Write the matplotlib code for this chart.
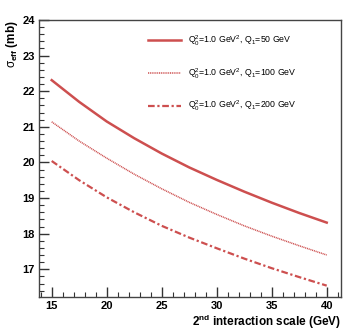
import matplotlib
matplotlib.use("Agg")
import matplotlib.pyplot as plt
from matplotlib.ticker import MultipleLocator

plt.rcParams['font.family'] = ['Liberation Sans', 'DejaVu Sans']
plt.rcParams['mathtext.fontset'] = 'custom'
plt.rcParams['mathtext.rm'] = 'Liberation Sans'
plt.rcParams['mathtext.it'] = 'Liberation Sans'
plt.rcParams['mathtext.bf'] = 'Liberation Sans:bold'

# data
scale = [15, 17.5, 20, 22.5, 25, 27.5, 30, 32.5, 35, 37.5, 40]
q50 = [22.31, 21.70, 21.15, 20.68, 20.25, 19.86, 19.51, 19.18, 18.87, 18.58, 18.31]
q100 = [21.14, 20.60, 20.12, 19.67, 19.26, 18.88, 18.54, 18.22, 17.93, 17.66, 17.40]
q200 = [20.04, 19.50, 19.02, 18.60, 18.22, 17.89, 17.59, 17.30, 17.03, 16.78, 16.54]
labels = [r'Q$_0^2$=1.0 GeV$^2$, Q$_1$=50 GeV',
          r'Q$_0^2$=1.0 GeV$^2$, Q$_1$=100 GeV',
          r'Q$_0^2$=1.0 GeV$^2$, Q$_1$=200 GeV']

red = '#cd4f4f'

fig = plt.figure(figsize=(3.55, 3.33), dpi=100)
ax = fig.add_axes([0.11, 0.108, 0.8506, 0.832])

kw = dict(color=red, solid_joinstyle='round', dash_joinstyle='round')
ax.plot(scale, q50, lw=1.8, ls='-', label=labels[0], **kw)
ax.plot(scale, q100, lw=1.1, ls=(0, (0.7, 0.5)), label=labels[1], **kw)
ax.plot(scale, q200, lw=1.6, ls=(0, (3, 1.2, 1, 1.2)), label=labels[2], **kw)

ax.set_xlim(13.85, 41.3)
ax.set_ylim(16.22, 24)
ax.xaxis.set_major_locator(MultipleLocator(5))
ax.xaxis.set_minor_locator(MultipleLocator(1))
ax.yaxis.set_major_locator(MultipleLocator(1))
ax.yaxis.set_minor_locator(MultipleLocator(0.2))
ax.tick_params(which='both', direction='in', top=False, right=False, color='#333333')
ax.tick_params(which='major', length=7, width=1.0, labelsize=8, pad=3)
ax.tick_params(which='minor', length=3.5, width=0.8)
for lab in ax.get_xticklabels() + ax.get_yticklabels():
    lab.set_fontweight('bold')
for s in ax.spines.values():
    s.set_color('#444444')
    s.set_linewidth(1.0)

ax.set_xlabel(r'2$^{\mathbf{nd}}$ interaction scale (GeV)', fontsize=8.5,
              fontweight='bold', loc='right', labelpad=1)
ax.set_ylabel(r'$\sigma_{\mathbf{eff}}$ (mb)', fontsize=8.5, fontweight='bold',
              loc='top', labelpad=2)

leg = ax.legend(loc='upper left', bbox_to_anchor=(0.36, 0.95), frameon=False,
                borderpad=0, borderaxespad=0,
                fontsize=6.3, handlelength=3.8, labelspacing=2.1, handletextpad=0.8)

plt.savefig('out.png', dpi=100)
